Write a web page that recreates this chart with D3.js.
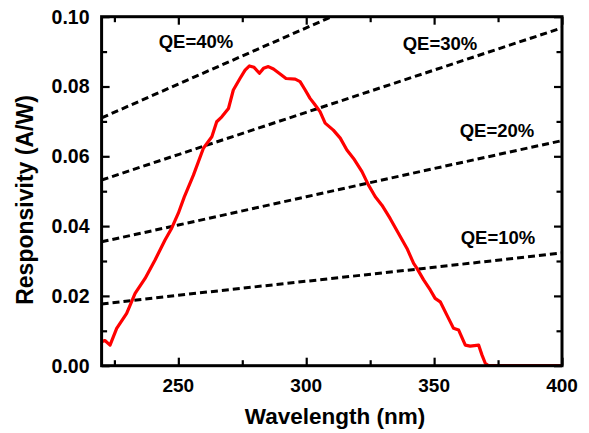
<!DOCTYPE html>
<html><head><meta charset="utf-8">
<script src="https://cdn.jsdelivr.net/npm/d3@7"></script>
<style>body{margin:0;background:#fff}svg{display:block}text{font-family:"Liberation Sans",Arial,sans-serif;font-weight:bold;fill:#000}</style>
</head><body><svg id="c" width="589" height="433"></svg>
<script>
// Measured responsivity (A/W) vs wavelength (nm)
const wavelength = [220,221.3,223.3,225.9,229.8,233.1,237,240.9,244.8,247.4,250,252.3,255.9,259.8,263.1,265,267,269.6,271.5,274.1,276.1,277.8,279.6,281.7,283.3,285.2,287.2,289.8,292.1,295.7,297.6,299.6,301.5,303.2,305.4,307.4,310.6,313.3,315.9,318.5,321.8,324.3,327,329.6,332.8,336.1,339.4,342,343.3,345.9,348.5,350.4,352.4,355,357.6,359.6,362.2,364.1,367.4,368.7,370,371.3,380,390,400];
const responsivity = [0.0069,0.0072,0.0059,0.0107,0.0150,0.0207,0.0250,0.0303,0.0360,0.0394,0.0437,0.0483,0.0546,0.0623,0.0656,0.0699,0.0713,0.0737,0.0790,0.0823,0.0847,0.0859,0.0855,0.0838,0.0852,0.0857,0.0850,0.0836,0.0823,0.0821,0.0814,0.0790,0.0766,0.0750,0.0728,0.0695,0.0675,0.0652,0.0618,0.0594,0.0556,0.0518,0.0484,0.0460,0.0422,0.0379,0.0336,0.0293,0.0279,0.0246,0.0217,0.0193,0.0183,0.0145,0.0107,0.0102,0.0059,0.0056,0.0059,0.0031,0.0007,0,0,0,0];
// QE reference lines
const qeWavelength = [220,250,300,350,400];
const qe10 = [0.0177,0.0202,0.0242,0.0282,0.0323];
const qe20 = [0.0355,0.0403,0.0484,0.0565,0.0645];
const qe30 = [0.0532,0.0605,0.0726,0.0847,0.0968];
const qe40 = [0.0710,0.0807,0.0968,0.1129,0.1290];
const qeLabels = ["QE=10%","QE=20%","QE=30%","QE=40%"];
const qeLabelPos = [[498,244],[497,137],[440,50],[196,48]];
const xTicks = [250,300,350,400];
const yTicks = [0.00,0.02,0.04,0.06,0.08,0.10];

const svg = d3.select("#c");
const L=101.6, R=562, T=16.7, B=365.7;
const x = d3.scaleLinear().domain([220,400]).range([L,R]);
const y = d3.scaleLinear().domain([0,0.10]).range([B,T]);

svg.append("clipPath").attr("id","clip").append("rect").attr("x",L).attr("y",T).attr("width",R-L).attr("height",B-T);
const plot = svg.append("g").attr("clip-path","url(#clip)");

const line = d3.line().x(d=>x(d[0])).y(d=>y(d[1]));
[qe10,qe20,qe30,qe40].forEach(s=>{
  plot.append("path").datum(qeWavelength.map((w,i)=>[w,s[i]]))
    .attr("d",line).attr("fill","none").attr("stroke","#000")
    .attr("stroke-width",3).attr("stroke-dasharray","7,4");
});
plot.append("path").datum(wavelength.map((w,i)=>[w,responsivity[i]]))
  .attr("d",line).attr("fill","none").attr("stroke","#ff0000").attr("stroke-width",3.2).attr("stroke-linejoin","round");

qeLabels.forEach((t,i)=>{
  svg.append("text").attr("x",qeLabelPos[i][0]).attr("y",qeLabelPos[i][1]).attr("text-anchor","middle")
    .style("font-size","18.5px").text(t);
});

// axes
function ticks(g){g.selectAll("line").attr("stroke","#000").attr("stroke-width",2.2);}
const gb = svg.append("g").attr("transform",`translate(0,${B})`)
  .call(d3.axisBottom(x).tickValues(d3.range(225,401,25)).tickSize(-6).tickFormat(""));
gb.select(".domain").remove();
gb.selectAll(".tick line").attr("y2",d=>xTicks.includes(d)?-8:-5.5);
ticks(gb);
const gt = svg.append("g").attr("transform",`translate(0,${T})`)
  .call(d3.axisTop(x).tickValues(d3.range(225,401,25)).tickSize(-6).tickFormat(""));
gt.select(".domain").remove();
gt.selectAll(".tick line").attr("y2",d=>xTicks.includes(d)?8:5.5);
ticks(gt);
const gl = svg.append("g").attr("transform",`translate(${L},0)`)
  .call(d3.axisLeft(y).tickValues(d3.range(0,0.1001,0.01)).tickSize(-6).tickFormat(""));
gl.select(".domain").remove();
gl.selectAll(".tick line").attr("x2",(d,i)=>i%2===0?8:5.5);
ticks(gl);
const gr = svg.append("g").attr("transform",`translate(${R},0)`)
  .call(d3.axisRight(y).tickValues(d3.range(0,0.1001,0.01)).tickSize(-6).tickFormat(""));
gr.select(".domain").remove();
gr.selectAll(".tick line").attr("x2",(d,i)=>i%2===0?-8:-5.5);
ticks(gr);

svg.append("rect").attr("x",L).attr("y",T).attr("width",R-L).attr("height",B-T)
  .attr("fill","none").attr("stroke","#000").attr("stroke-width",3);

// tick labels
svg.append("g").selectAll("text").data(xTicks).join("text")
  .attr("x",d=>x(d)).attr("y",392).attr("text-anchor","middle").style("font-size","19px")
  .text(d=>d3.format("d")(d));
svg.append("g").selectAll("text").data(yTicks).join("text")
  .attr("x",89.5).attr("y",d=>y(d)+6.8).attr("text-anchor","end").style("font-size","19.5px")
  .text(d=>d3.format(".2f")(d));

svg.append("text").attr("x",335).attr("y",424).attr("text-anchor","middle").style("font-size","22.5px").text("Wavelength (nm)");
svg.append("text").attr("transform","translate(33,200) rotate(-90)").attr("text-anchor","middle").style("font-size","23px").text("Responsivity (A/W)");
</script></body></html>
